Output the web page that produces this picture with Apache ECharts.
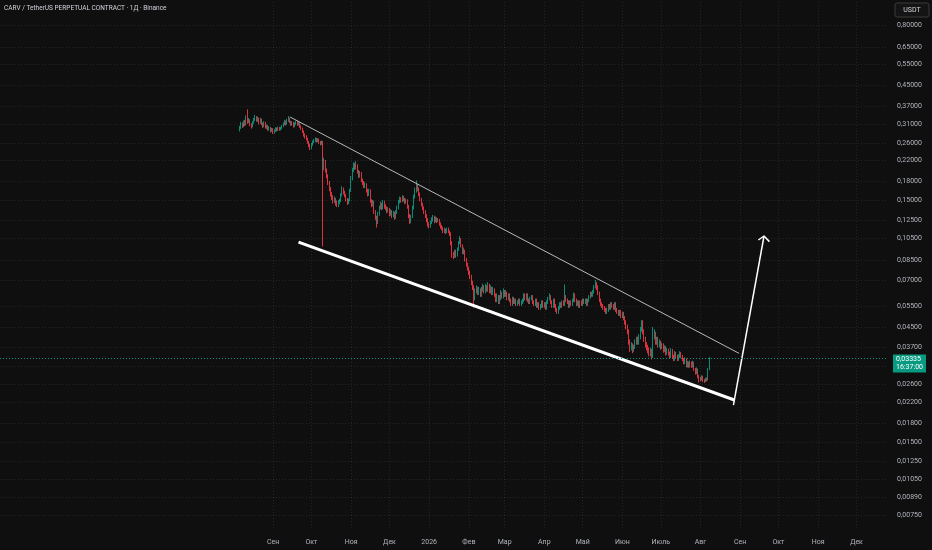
<!DOCTYPE html>
<html><head><meta charset="utf-8">
<script src="https://cdn.jsdelivr.net/npm/echarts@6/dist/echarts.min.js"></script>
<style>html,body{margin:0;padding:0;background:#0f0f0f;}#c{width:932px;height:550px;}</style>
</head><body><div id="c"></div><script>
const title = 'CARV / TetherUS PERPETUAL CONTRACT · 1Д · Binance';
const firstDate = '2025-08-06';
const firstOpen = 0.295;
const closes = [
// Aug 2025 (from 6th)
0.300,0.312,0.305,0.318,0.310,0.330,0.318,0.322,0.310,0.305,0.315,0.325,0.332,0.322,0.328,0.315,0.325,0.312,0.305,0.315,0.302,0.305,0.296,0.300,0.292,0.296,
// Sep
0.287,0.292,0.298,0.294,0.300,0.296,0.299,0.305,0.312,0.318,0.312,0.322,0.328,0.318,0.310,0.315,0.305,0.312,0.318,0.310,0.315,0.305,0.298,0.290,0.280,0.276,0.270,0.262,0.255,0.248,
// Oct
0.256,0.262,0.266,0.270,0.265,0.268,0.262,0.258,0.262,0.212,0.218,0.200,0.190,0.178,0.168,0.160,0.155,0.150,0.152,0.147,0.144,0.148,0.150,0.158,0.168,0.162,0.158,0.152,0.147,0.150,0.165,
// Nov
0.185,0.200,0.212,0.205,0.210,0.198,0.190,0.195,0.182,0.178,0.172,0.175,0.165,0.160,0.165,0.150,0.145,0.148,0.135,0.128,0.122,0.132,0.140,0.145,0.140,0.148,0.142,0.140,0.136,0.138,
// Dec
0.132,0.135,0.130,0.133,0.128,0.134,0.140,0.148,0.152,0.150,0.155,0.152,0.148,0.150,0.142,0.130,0.123,0.128,0.140,0.155,0.165,0.172,0.168,0.160,0.152,0.145,0.140,0.135,0.130,0.125,0.120,
// Jan 2026
0.118,0.122,0.125,0.128,0.124,0.127,0.124,0.125,0.120,0.117,0.115,0.112,0.114,0.111,0.114,0.112,0.110,0.100,0.090,0.088,0.092,0.089,0.094,0.100,0.104,0.098,0.092,0.093,0.086,0.082,0.079,
// Feb
0.076,0.073,0.069,0.066,0.059,0.063,0.065,0.062,0.064,0.061,0.064,0.066,0.063,0.066,0.064,0.067,0.063,0.065,0.062,0.064,0.061,0.058,0.060,0.057,0.059,0.062,0.060,0.063,
// Mar
0.061,0.062,0.059,0.061,0.058,0.056,0.059,0.057,0.058,0.056,0.057,0.058,0.056,0.057,0.058,0.061,0.059,0.061,0.058,0.057,0.059,0.060,0.057,0.056,0.058,0.055,0.056,0.054,0.055,0.057,0.055,
// Apr
0.056,0.054,0.057,0.059,0.060,0.057,0.055,0.058,0.055,0.053,0.052,0.054,0.056,0.055,0.057,0.056,0.060,0.058,0.057,0.055,0.057,0.056,0.058,0.061,0.058,0.056,0.057,0.055,0.057,0.056,
// May
0.058,0.057,0.058,0.056,0.058,0.060,0.062,0.061,0.063,0.066,0.068,0.066,0.062,0.058,0.056,0.055,0.054,0.053,0.052,0.053,0.055,0.054,0.056,0.055,0.054,0.056,0.053,0.052,0.051,0.052,0.050,
// Jun
0.051,0.049,0.047,0.045,0.043,0.039,0.037,0.038,0.036,0.037,0.039,0.040,0.039,0.041,0.044,0.047,0.043,0.040,0.038,0.037,0.036,0.035,0.036,0.034,0.041,0.042,0.039,0.040,0.038,0.039,
// Jul
0.037,0.038,0.036,0.037,0.035,0.036,0.035,0.034,0.036,0.034,0.033,0.035,0.034,0.033,0.034,0.035,0.034,0.033,0.032,0.033,0.031,0.032,0.031,0.032,0.031,0.032,0.030,0.029,0.030,0.028,0.0275,
// Aug 2026
0.0272,0.0280,0.0270,0.0268,0.0275,0.0272,0.0300,0.03335
];
const highs = [
0.306,0.318,0.316,0.322,0.324,0.338,0.358,0.330,0.326,0.314,0.320,0.330,0.340,0.336,0.334,0.331,0.330,0.328,0.316,0.320,0.318,0.310,0.308,0.305,0.303,0.300,
0.299,0.296,0.302,0.301,0.304,0.303,0.303,0.309,0.316,0.324,0.322,0.327,0.336,0.331,0.321,0.320,0.318,0.316,0.322,0.321,0.319,0.317,0.308,0.301,0.293,0.285,0.280,0.273,0.265,0.258,
0.260,0.266,0.270,0.274,0.273,0.272,0.271,0.265,0.266,0.265,0.226,0.221,0.204,0.193,0.181,0.171,0.163,0.158,0.156,0.154,0.150,0.151,0.153,0.161,0.172,0.170,0.165,0.160,0.154,0.153,0.168,
0.190,0.205,0.216,0.215,0.219,0.212,0.201,0.199,0.197,0.185,0.181,0.179,0.177,0.168,0.168,0.167,0.152,0.151,0.150,0.137,0.130,0.135,0.143,0.149,0.147,0.151,0.150,0.145,0.142,0.141,
0.140,0.138,0.137,0.136,0.135,0.137,0.143,0.151,0.156,0.155,0.158,0.157,0.154,0.153,0.152,0.144,0.132,0.131,0.143,0.159,0.170,0.182,0.176,0.170,0.162,0.154,0.147,0.142,0.137,0.132,0.127,
0.122,0.124,0.128,0.131,0.130,0.129,0.128,0.127,0.126,0.122,0.119,0.117,0.116,0.115,0.116,0.116,0.113,0.111,0.102,0.092,0.094,0.094,0.096,0.102,0.107,0.105,0.099,0.096,0.094,0.087,0.083,
0.080,0.077,0.074,0.070,0.067,0.065,0.067,0.066,0.066,0.065,0.066,0.068,0.067,0.068,0.067,0.069,0.068,0.067,0.066,0.066,0.065,0.062,0.062,0.061,0.061,0.064,0.063,0.065,
0.064,0.064,0.063,0.062,0.062,0.059,0.060,0.060,0.059,0.059,0.058,0.059,0.059,0.058,0.059,0.062,0.062,0.062,0.062,0.059,0.060,0.061,0.061,0.058,0.059,0.059,0.057,0.057,0.056,0.058,0.058,
0.057,0.057,0.058,0.060,0.062,0.061,0.058,0.059,0.059,0.056,0.054,0.055,0.057,0.057,0.058,0.058,0.0675,0.061,0.059,0.058,0.058,0.058,0.059,0.0625,0.062,0.059,0.058,0.058,0.058,0.058,
0.059,0.059,0.059,0.059,0.059,0.061,0.063,0.063,0.064,0.067,0.0705,0.069,0.067,0.063,0.059,0.057,0.056,0.055,0.054,0.054,0.056,0.056,0.057,0.057,0.056,0.057,0.057,0.054,0.053,0.053,0.053,
0.052,0.052,0.050,0.048,0.046,0.044,0.040,0.039,0.0385,0.038,0.040,0.041,0.041,0.042,0.045,0.048,0.048,0.044,0.041,0.039,0.038,0.037,0.037,0.0365,0.045,0.044,0.043,0.041,0.041,0.040,
0.0395,0.0388,0.0385,0.0378,0.0375,0.0368,0.0366,0.0356,0.0368,0.0365,0.0346,0.0358,0.0355,0.0345,0.0347,0.0357,0.0355,0.0345,0.0335,0.0337,0.0334,0.0326,0.0324,0.0327,0.0324,0.0326,0.0323,0.0305,0.0306,0.0303,0.0285,
0.0280,0.0284,0.0283,0.0274,0.0278,0.0278,0.0304,0.0338
];
const lows = [
0.290,0.297,0.300,0.302,0.305,0.307,0.312,0.314,0.305,0.298,0.302,0.312,0.320,0.318,0.318,0.310,0.312,0.308,0.300,0.302,0.298,0.297,0.292,0.292,0.287,0.289,
0.283,0.284,0.289,0.290,0.291,0.292,0.293,0.296,0.302,0.308,0.307,0.309,0.318,0.314,0.306,0.307,0.301,0.302,0.309,0.306,0.307,0.300,0.294,0.286,0.276,0.271,0.266,0.258,0.250,0.243,
0.245,0.253,0.259,0.262,0.261,0.262,0.258,0.254,0.255,0.097,0.200,0.196,0.186,0.174,0.164,0.156,0.151,0.146,0.147,0.143,0.141,0.141,0.145,0.148,0.156,0.159,0.155,0.149,0.144,0.145,0.149,
0.163,0.182,0.197,0.201,0.202,0.194,0.186,0.187,0.179,0.174,0.169,0.169,0.162,0.156,0.157,0.147,0.141,0.142,0.132,0.125,0.116,0.120,0.130,0.138,0.137,0.138,0.139,0.137,0.133,0.134,
0.129,0.130,0.127,0.128,0.125,0.126,0.132,0.138,0.146,0.147,0.148,0.149,0.145,0.146,0.139,0.127,0.120,0.121,0.127,0.138,0.153,0.162,0.164,0.157,0.149,0.142,0.137,0.132,0.127,0.122,0.117,
0.115,0.116,0.120,0.123,0.121,0.122,0.121,0.122,0.118,0.115,0.113,0.110,0.110,0.109,0.110,0.110,0.107,0.098,0.087,0.086,0.087,0.087,0.088,0.093,0.099,0.096,0.090,0.090,0.084,0.080,0.077,
0.074,0.071,0.067,0.064,0.054,0.058,0.062,0.061,0.061,0.060,0.060,0.063,0.062,0.062,0.063,0.063,0.062,0.062,0.061,0.061,0.060,0.057,0.057,0.056,0.056,0.058,0.059,0.059,
0.060,0.060,0.058,0.058,0.057,0.055,0.055,0.056,0.056,0.055,0.055,0.056,0.055,0.055,0.056,0.057,0.058,0.058,0.057,0.056,0.056,0.058,0.056,0.055,0.055,0.054,0.054,0.053,0.053,0.054,0.054,
0.054,0.053,0.053,0.056,0.058,0.056,0.054,0.054,0.054,0.052,0.051,0.051,0.053,0.054,0.054,0.055,0.055,0.057,0.056,0.054,0.054,0.055,0.055,0.057,0.057,0.055,0.055,0.054,0.054,0.055,
0.055,0.056,0.056,0.055,0.055,0.057,0.059,0.060,0.060,0.062,0.065,0.064,0.061,0.057,0.055,0.054,0.053,0.052,0.051,0.051,0.052,0.053,0.053,0.054,0.053,0.053,0.052,0.051,0.050,0.050,0.049,
0.049,0.048,0.046,0.044,0.042,0.038,0.0355,0.036,0.035,0.0355,0.0365,0.038,0.038,0.038,0.040,0.043,0.042,0.039,0.037,0.036,0.035,0.034,0.034,0.033,0.0335,0.040,0.038,0.038,0.037,0.037,
0.0362,0.0365,0.0352,0.0355,0.0343,0.0345,0.0343,0.0334,0.0335,0.0334,0.0325,0.0326,0.0334,0.0325,0.0326,0.0335,0.0334,0.0325,0.0315,0.0316,0.0306,0.0306,0.0305,0.0306,0.0305,0.0306,0.0296,0.0286,0.0287,0.0276,0.0265,
0.0268,0.0270,0.0266,0.0264,0.0266,0.0268,0.0270,0.0298
];
const priceTicks = [0.8,0.65,0.55,0.45,0.37,0.31,0.26,0.22,0.18,0.15,0.125,0.105,0.085,0.07,0.055,0.045,0.037,0.026,0.022,0.018,0.015,0.0125,0.0105,0.0089,0.0075];
const gridPrices = [0.8,0.65,0.55,0.45,0.37,0.31,0.26,0.22,0.18,0.15,0.125,0.105,0.085,0.07,0.055,0.045,0.037,0.031,0.026,0.022,0.018,0.015,0.0125,0.0105,0.0089,0.0075];
const monthStarts = ['2025-09-01','2025-10-01','2025-11-01','2025-12-01','2026-01-01','2026-02-01','2026-03-01','2026-04-01','2026-05-01','2026-06-01','2026-07-01','2026-08-01','2026-09-01','2026-10-01','2026-11-01','2026-12-01'];
const monthLabels = ['Сен','Окт','Ноя','Дек','2026','Фев','Мар','Апр','Май','Июн','Июль','Авг','Сен','Окт','Ноя','Дек'];
const lastPrice = 0.03335;
const countdown = '16:37:00';
const resistanceLine = [['2025-09-14T07:00', 0.3329], ['2026-08-31T05:00', 0.0350]];
const supportLine = [['2025-09-20T22:00', 0.1011], ['2026-08-27T12:00', 0.02244]];
const arrowShaft = [['2026-08-26T19:00', 0.02139], ['2026-09-19T17:00', 0.1071]];
const arrowHead = [['2026-09-15T07:00', 0.1031], ['2026-09-19T17:00', 0.1071], ['2026-09-23T22:00', 0.1015]];

const D0 = Date.UTC(2025, 8, 1);
const toDay = s => (Date.parse(s.length === 10 ? s + 'T00:00:00Z' : s + ':00Z') - D0) / 864e5;
const start = toDay(firstDate);
const candles = closes.map((c, i) => [start + i, i ? closes[i - 1] : firstOpen, c, lows[i], highs[i]]);
const monthDays = monthStarts.map(toDay);
const pts = arr => arr.map(([s, v]) => [toDay(s), v]);
const FONT = 'Roboto, "Liberation Sans", sans-serif';
const fmtPrice = v => v.toFixed(5).replace('.', ',');

const chart = echarts.init(document.getElementById('c'), null, {renderer: 'canvas'});
chart.setOption({
  backgroundColor: '#0f0f0f',
  animation: false,
  title: {text: title, left: 4, top: 5, padding: 0, textStyle: {color: '#d1d4dc', fontSize: 6.5, fontWeight: 'normal', fontFamily: FONT}},
  grid: {left: 0, right: 44, top: 0, bottom: 22},
  xAxis: {
    type: 'value', min: -213.4, max: 480.6,
    axisLine: {show: false}, axisTick: {show: false}, splitLine: {show: false},
    axisLabel: {
      customValues: monthDays, color: '#b2b5be', fontSize: 7, fontFamily: FONT, margin: 11,
      formatter: v => { const k = monthDays.findIndex(d => Math.abs(d - v) < 0.01); return k >= 0 ? monthLabels[k] : ''; }
    }
  },
  yAxis: {
    type: 'log', logBase: 10, position: 'right', min: 0.006626, max: 1.0152,
    axisLine: {show: false}, axisTick: {show: false}, splitLine: {show: false},
    axisLabel: {customValues: priceTicks, color: '#b2b5be', fontSize: 7, fontFamily: FONT, margin: 9, align: 'left', formatter: v => fmtPrice(v)}
  },
  graphic: [
    {type: 'rect', shape: {x: 895, y: 3, width: 34, height: 14, r: 2}, style: {fill: '#141414', stroke: '#3a3a3a', lineWidth: 1}},
    {type: 'text', x: 912, y: 10, style: {text: 'USDT', fill: '#d1d4dc', fontSize: 7, fontFamily: FONT, align: 'center', verticalAlign: 'middle'}}
  ],
  series: [
    {
      type: 'line', data: [], z: 0, silent: true,
      markLine: {
        silent: true, precision: 8, symbol: ['none', 'none'], label: {show: false},
        lineStyle: {color: 'rgba(255,255,255,0.09)', type: [1, 2], width: 1},
        data: gridPrices.map(v => ({yAxis: v})).concat(monthDays.map(d => ({xAxis: d})))
      }
    },
    {
      type: 'candlestick', data: candles, z: 2, barWidth: 1.3,
      itemStyle: {color: '#089981', color0: '#F23645', borderColor: '#089981', borderColor0: '#F23645', borderWidth: 0.9},
      markLine: {
        silent: true, precision: 8, symbol: ['none', 'none'],
        lineStyle: {color: '#089981', type: [1, 2], width: 1},
        label: {show: true, position: 'end', distance: 5, offset: [0, 5], formatter: () => fmtPrice(lastPrice) + '\n' + countdown,
          backgroundColor: '#089981', color: '#ffffff', fontSize: 7, lineHeight: 8, fontFamily: FONT, padding: [1, 3, 1, 3], align: 'left'},
        data: [{yAxis: lastPrice}]
      }
    },
    {type: 'line', data: pts(resistanceLine), symbol: 'none', z: 3, silent: true, lineStyle: {color: '#b8b8b8', width: 1}},
    {type: 'line', data: pts(supportLine), symbol: 'none', z: 3, silent: true, lineStyle: {color: '#ffffff', width: 3}},
    {type: 'line', data: pts(arrowShaft), symbol: 'none', z: 3, silent: true, lineStyle: {color: '#ffffff', width: 1.5}},
    {type: 'line', data: pts(arrowHead), symbol: 'none', z: 3, silent: true, lineStyle: {color: '#ffffff', width: 1.5}}
  ]
});
</script></body></html>
